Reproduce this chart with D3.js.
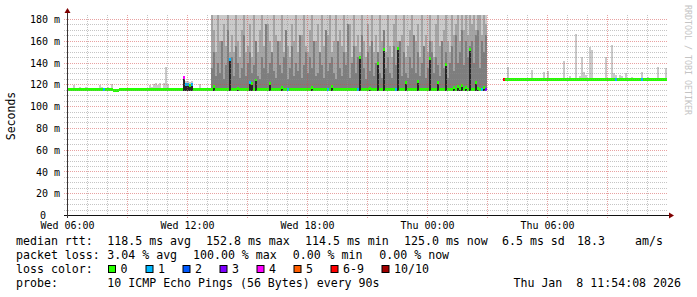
<!DOCTYPE html>
<html>
<head>
<meta charset="utf-8">
<script src="https://cdn.jsdelivr.net/npm/d3@7/dist/d3.min.js"></script>
<style>
html,body{margin:0;padding:0;background:#fff;}
svg{display:block;}
text{font-family:"DejaVu Sans Mono",monospace;}
</style>
</head>
<body>
<svg id="chart" width="697" height="297"></svg>
<script>
// ---------------- DATA ----------------
const startTime = "2026-01-07T06:00:00";
const endTime   = "2026-01-08T12:00:00";
const stepMinutes = 6;               // one bin = 6 minutes
const yTickValues = [0,20,40,60,80,100,120,140,160,180];
const yTickLabels = ["0","20 m","40 m","60 m","80 m","100 m","120 m","140 m","160 m","180 m"];
const xTickTimes  = ["2026-01-07T06:00:00","2026-01-07T12:00:00","2026-01-07T18:00:00","2026-01-08T00:00:00","2026-01-08T06:00:00"];
const xTickLabels = ["Wed 06:00","Wed 12:00","Wed 18:00","Thu 00:00","Thu 06:00"];

// median rtt (ms) per 6-minute bin
const medianMs = [
115,115,115,115,115,115,115,115,115,115,
115,115,115,115,115,115,115,115,115,115,
115,115,115,114,114,114,115,115,115,115,
115,115,115,115,115,115,115,115,115,115,
115,115,115,115,115,115,115,115,115,115,
115,115,115,115,115,115,115,115,126,120,
120,119,120,115,115,115,115,115,115,115,
115,115,115,118,115,115,115,115,115,115,
115,143,115,115,115,116,115,115,115,115,
115,122,121,115,124,115,115,115,115,115,
115,121,115,115,115,115,115,117,115,115,
115,115,115,115,115,115,115,115,115,115,
115,115,117,115,115,115,115,115,115,115,
115,115,118,115,115,115,115,115,115,115,
115,115,115,115,115,115,145,115,115,115,
115,116,115,115,115,139,115,115,152,115,
115,115,115,115,115,153,115,115,115,122,
115,115,115,115,115,123,115,115,115,115,
115,144,115,115,115,122,115,115,115,138,
115,115,115,117,115,118,116,119,115,117,
115,152,115,115,122,116,115,115,117,115,
null,null,null,null,null,null,null,null,124.5,124.5,
124.5,124.5,124.5,124.5,124.5,124.5,124.5,124.5,124.5,124.5,
124.5,124.5,124.5,124.5,124.5,124.5,124.5,124.5,124.5,124.5,
124.5,124.5,124.5,124.5,124.5,124.5,124.5,124.5,124.5,124.5,
124.5,124.5,124.5,124.5,124.5,124.5,124.5,124.5,124.5,124.5,
124.5,124.5,124.5,124.5,124.5,124.5,124.5,124.5,124.5,124.5,
124.5,124.5,124.5,124.5,124.5,124.5,124.5,124.5,124.5,124.5,
124.5,124.5,124.5,124.5,124.5,124.5,124.5,124.5,124.5,124.5,
124.5,124.5,124.5,124.5,124.5,124.5,124.5,124.5,124.5,124.5,
124.5
];

// lost pings out of 10 per bin
const lossCount = [
0,0,0,0,0,0,0,0,0,0,
0,0,0,0,0,0,0,0,1,0,
0,0,0,0,0,0,0,0,0,0,
0,0,0,0,0,0,0,0,0,0,
0,0,0,0,0,0,0,0,0,0,
0,0,0,0,0,0,0,0,4,1,
1,0,1,0,0,0,0,0,0,0,
0,0,0,0,0,0,0,0,0,0,
0,1,0,0,0,0,0,0,0,0,
0,1,0,0,0,0,0,0,0,0,
0,0,0,0,0,0,0,0,0,0,
1,0,0,0,0,0,0,0,0,0,
0,0,0,0,0,0,0,0,0,0,
1,0,0,0,0,0,0,0,0,0,
0,0,0,0,0,1,0,0,0,0,
0,0,0,0,0,0,0,0,0,0,
0,0,0,0,1,0,0,0,0,0,
0,0,0,0,0,0,0,0,0,0,
0,0,0,0,0,0,0,0,0,0,
0,0,0,0,0,0,0,0,0,0,
0,0,0,0,0,0,0,1,0,3,
null,null,null,null,null,null,null,null,7,0,
0,0,0,0,0,0,0,0,0,0,
0,0,0,0,0,0,0,0,0,0,
0,0,0,0,0,0,0,0,0,0,
0,0,0,0,0,0,0,0,0,0,
0,0,0,0,0,0,0,0,0,0,
0,0,0,0,1,0,0,0,0,0,
0,0,0,0,0,0,0,1,0,0,
0,0,0,0,0,0,0,0,0,0,
0
];

// fastest ping (ms) per bin: floor of the smoke
const minMs = [
114,114,114,114,114,114,114,114,114,114,114,114,114,114,114,114,114,114,114,114,114,114,114,114,114,114,114,114,114,114,
114,114,114,114,114,114,114,114,114,114,114,114,114,114,114,114,114,114,114,114,114,114,114,114,114,114,114,114,114,114,
114,114,114,114,114,114,114,114,114,114,114,114,114,114,114,114,114,114,114,114,114,114,114,114,114,114,114,114,114,114,
114,114,114,114,114,114,114,114,114,114,114,114,114,114,114,114,114,114,114,114,114,114,114,114,114,114,114,114,114,114,
114,114,114,114,114,114,114,114,114,114,114,114,114,114,114,114,114,114,114,114,114,114,114,114,114,114,114,114,114,114,
114,114,114,114,114,114,114,114,114,114,114,114,114,114,114,114,114,114,114,114,114,114,114,114,114,114,114,114,114,114,
114,114,114,114,114,114,114,114,114,114,114,114,114,114,114,114,114,114,114,114,114,114,114,114,114,114,114,114,114,114,
null,null,null,null,null,null,null,null,123.5,123.5,123.5,123.5,123.5,123.5,123.5,123.5,123.5,123.5,123.5,123.5,123.5,123.5,123.5,123.5,123.5,123.5,123.5,123.5,123.5,123.5,
123.5,123.5,123.5,123.5,123.5,123.5,123.5,123.5,123.5,123.5,123.5,123.5,123.5,123.5,123.5,123.5,123.5,123.5,123.5,123.5,123.5,123.5,123.5,123.5,123.5,123.5,123.5,123.5,123.5,123.5,
123.5,123.5,123.5,123.5,123.5,123.5,123.5,123.5,123.5,123.5,123.5,123.5,123.5,123.5,123.5,123.5,123.5,123.5,123.5,123.5,123.5,123.5,123.5,123.5,123.5,123.5,123.5,123.5,123.5,123.5,
123.5
];

// slowest ping (ms) per bin (lightest smoke); null = no smoke
const p10Ms = [
null,null,null,119,null,null,118,null,null,118,
null,null,null,null,null,null,119,118,null,null,
118,117,120,null,null,null,null,null,null,null,
null,null,null,null,117,null,null,null,null,null,
null,119,118,120,121,119,121,null,121,136,
120,null,null,null,null,null,null,null,127,123,
123,122,123,null,null,null,120,null,null,null,
null,null,200,200,200,200,200,200,200,200,
200,200,200,200,200,200,200,200,200,200,
200,200,200,200,200,200,200,200,200,200,
200,200,200,200,200,200,200,200,200,200,
200,200,200,200,200,200,200,200,200,200,
200,200,200,200,200,200,200,200,200,200,
200,200,200,200,200,200,200,200,200,200,
200,200,200,200,200,200,200,200,200,200,
200,200,200,200,200,200,200,200,200,200,
200,200,200,200,200,200,200,200,200,200,
200,200,200,200,200,200,200,200,200,200,
200,200,200,200,200,200,200,200,200,200,
200,200,200,200,200,200,200,200,200,200,
200,200,200,200,200,200,200,200,200,200,
null,null,null,null,null,null,null,null,null,null,
136,null,null,null,null,null,null,null,null,null,
null,null,133,null,null,null,null,null,131,null,
132,null,null,null,null,null,null,null,141.5,null,
null,127.5,null,null,166,null,127.5,145,131,129,
null,154.6,152,null,null,null,null,null,null,145,
null,null,156,130,129,null,129,128,null,130,
null,null,127,null,null,null,null,131,null,null,
127,null,null,null,null,136,null,null,null,135,
null
];

// dense-smoke period: 9th and 8th ranked pings (ms), starting at bin 72
const denseFirstBin = 72;
const p9Ms = [
184,170,150,184,160,145,175,155,184,150,
165,150,184,160,145,170,184,150,155,175,
145,184,160,150,170,184,155,145,175,160,
150,184,165,145,160,184,150,170,155,145,
175,160,184,150,145,165,184,155,150,170,
184,145,160,175,150,184,155,145,165,184,
150,160,184,145,170,155,184,150,160,175,
145,184,155,165,150,184,160,145,175,155,
184,150,165,145,184,160,170,150,184,155,
145,175,184,160,150,165,184,145,155,170,
184,150,160,175,145,184,155,165,150,184,
160,145,175,184,155,150,170,184,160,150,
184,165,175,184,160,184,170,184,165,184,
175,184,170,184,184,165,184,175
];
const p8Ms = [
135,150,128,140,130,160,125,138,170,132,
145,128,155,140,126,135,165,128,140,150,
130,138,160,128,125,145,135,175,130,140,
150,132,126,160,138,130,145,170,125,135,
155,128,140,132,165,126,138,150,130,145,
135,160,128,130,150,138,126,170,132,140,
145,130,125,160,135,128,150,138,175,126,
140,155,130,145,128,165,135,125,150,132,
160,128,140,150,130,126,170,135,145,130,
126,155,138,132,160,128,150,130,126,145,
135,165,130,150,128,140,155,126,135,160,
150,130,145,138,128,160,135,150,126,140,
155,132,165,140,150,170,138,160,145,155,
160,140,165,170,135,160,150,165
];

const lossLabels = ["0","1","2","3","4","5","6-9","10/10"];
const lossColors = ["#26ff00","#00b8ff","#0059ff","#7e00ff","#ff00ff","#ff5e00","#ff0000","#a10000"];
const smokeColors = ["#cacaca","#a4a4a4","#7e7e7e","#262626"];

const rttStats  = ["118.5 ms avg","152.8 ms max","114.5 ms min","125.0 ms now","6.5 ms sd","18.3","am/s"];
const lossStats = ["3.04 % avg","100.00 % max","0.00 % min","0.00 % now"];
const probeText = "10 ICMP Echo Pings (56 Bytes) every 90s";
const stampText = "Thu Jan  8 11:54:08 2026";

// ---------------- LAYOUT ----------------
const plot = {left:67, right:667, top:15, bottom:215};
const rttX  = [107.3,206,305,404,502,577,635];
const lossX = [107.3,193,292.7,379.3];
const boxX  = [108,145.5,182.5,219.5,256.5,293.5,330.5,381.5];
const legendBase = [245,259,273,287];

const parse = d3.timeParse("%Y-%m-%dT%H:%M:%S");
const t0 = parse(startTime), t1 = parse(endTime);
const x = d3.scaleTime().domain([t0,t1]).range([plot.left, plot.right]);
const y = d3.scaleLinear().domain([0,183.7]).range([plot.bottom, plot.top]);
const binTime = i => d3.timeMinute.offset(t0, i*stepMinutes);

const svg = d3.select("#chart");
svg.append("defs").append("clipPath").attr("id","pc")
  .append("rect").attr("x",plot.left).attr("y",plot.top)
  .attr("width",plot.right-plot.left).attr("height",plot.bottom-plot.top);

const g = svg.append("g").attr("clip-path","url(#pc)");

function layer(values, offset, color){
  const items = [];
  values.forEach((v,k)=>{
    const i = k+offset;
    if (v==null || minMs[i]==null) return;
    const hi = v, lo = minMs[i];
    if (hi<=lo) return;
    items.push({i,hi,lo});
  });
  g.append("g").selectAll("rect").data(items).join("rect")
    .attr("x",d=>x(binTime(d.i)))
    .attr("width",d=>x(binTime(d.i+1))-x(binTime(d.i)))
    .attr("y",d=>y(d.hi))
    .attr("height",d=>y(d.lo)-y(d.hi))
    .attr("fill",color).attr("shape-rendering","crispEdges");
}
layer(p10Ms,0,smokeColors[0]);
layer(p9Ms,denseFirstBin,smokeColors[1]);
layer(p8Ms,denseFirstBin,smokeColors[2]);
layer(medianMs,0,smokeColors[3]);

// median band coloured by loss
const bandHalf = 1.3;
const lossIdx = l => l<=5 ? l : (l<10 ? 6 : 7);
const med = medianMs.map((v,i)=>({i,v,l:lossCount[i]})).filter(d=>d.v!=null);
g.append("g").selectAll("rect").data(med).join("rect")
  .attr("x",d=>x(binTime(d.i)))
  .attr("width",d=>x(binTime(d.i+1))-x(binTime(d.i)))
  .attr("y",d=>y(d.v+bandHalf))
  .attr("height",d=>y(d.v-bandHalf)-y(d.v+bandHalf))
  .attr("fill",d=>lossColors[lossIdx(d.l)]).attr("shape-rendering","crispEdges");

// grid
const grid = svg.append("g").attr("shape-rendering","crispEdges");
const minorY = d3.range(0,183,5).filter(v=>v%20!==0);
grid.selectAll(".hmin").data(minorY).join("line")
  .attr("x1",plot.left-3).attr("x2",plot.right)
  .attr("y1",d=>Math.round(y(d))+0.5).attr("y2",d=>Math.round(y(d))+0.5)
  .attr("stroke","rgba(140,140,140,0.5)").attr("stroke-dasharray","1,1");
const hours = d3.timeHour.every(1).range(t0,t1);
grid.selectAll(".vmin").data(hours.filter(h=>h.getHours()%3!==0)).join("line")
  .attr("x1",d=>Math.round(x(d))+0.5).attr("x2",d=>Math.round(x(d))+0.5)
  .attr("y1",plot.top).attr("y2",plot.bottom+2)
  .attr("stroke","rgba(140,140,140,0.5)").attr("stroke-dasharray","1,1");
grid.selectAll(".hmaj").data(yTickValues).join("line")
  .attr("x1",plot.left-3).attr("x2",plot.right)
  .attr("y1",d=>Math.round(y(d))+0.5).attr("y2",d=>Math.round(y(d))+0.5)
  .attr("stroke","rgba(210,70,70,0.5)").attr("stroke-dasharray","1,1");
grid.selectAll(".vmaj").data(hours.filter(h=>h.getHours()%3===0)).join("line")
  .attr("x1",d=>Math.round(x(d))+0.5).attr("x2",d=>Math.round(x(d))+0.5)
  .attr("y1",plot.top).attr("y2",plot.bottom+3)
  .attr("stroke","rgba(210,70,70,0.5)").attr("stroke-dasharray","1,1");

// axes
const yAxis = d3.axisLeft(y).tickValues(yTickValues)
  .tickFormat((d,i)=>yTickLabels[i]).tickSize(0).tickPadding(7);
const ya = svg.append("g").attr("transform",`translate(${plot.left},0)`).call(yAxis);
ya.select(".domain").remove();
ya.selectAll("text").attr("font-family","DejaVu Sans Mono").attr("font-size",10)
  .attr("fill","#000").attr("dy","0.36em")
  .attr("dx",(d,i)=>yTickLabels[i].indexOf(" ")<0 ? -14 : 0);

const xAxis = d3.axisBottom(x).tickValues(xTickTimes.map(parse))
  .tickFormat((d,i)=>xTickLabels[i]).tickSize(0).tickPadding(7);
const xa = svg.append("g").attr("transform",`translate(0,${plot.bottom})`).call(xAxis);
xa.select(".domain").remove();
xa.selectAll("text").attr("font-family","DejaVu Sans Mono").attr("font-size",10).attr("fill","#000");

// axis lines & arrows
svg.append("line").attr("x1",plot.left-3).attr("x2",plot.right+3)
  .attr("y1",plot.bottom+0.5).attr("y2",plot.bottom+0.5).attr("stroke","#111").attr("shape-rendering","crispEdges");
svg.append("line").attr("x1",plot.left+0.5).attr("x2",plot.left+0.5)
  .attr("y1",plot.bottom+3).attr("y2",plot.top-3).attr("stroke","#3a3434").attr("shape-rendering","crispEdges");
const ax = plot.left+0.5, ay = plot.bottom+0.5;
svg.append("path").attr("d",`M${ax-3},${plot.top-2}L${ax+3},${plot.top-2}L${ax},${plot.top-7}Z`).attr("fill","#7f0000");
svg.append("path").attr("d",`M${plot.right+2},${ay-3}L${plot.right+2},${ay+3}L${plot.right+7},${ay}Z`).attr("fill","#7f0000");

// axis title
svg.append("text").attr("transform",`translate(15,${(plot.top+plot.bottom)/2+1}) rotate(-90)`)
  .attr("text-anchor","middle").attr("font-size",11.5).attr("fill","#000").text("Seconds");
svg.append("text").attr("transform","translate(685,5) rotate(90)")
  .attr("text-anchor","start").attr("font-size",8.3).attr("fill","#c4c4c4").text("RRDTOOL / TOBI OETIKER");

// legend
const fs = 11.6;
const leg = svg.append("g").attr("font-size",fs).attr("fill","#000");
leg.append("text").attr("x",16).attr("y",legendBase[0]).text("median rtt:");
rttStats.forEach((s,i)=>leg.append("text").attr("x",rttX[i]).attr("y",legendBase[0]).text(s));
leg.append("text").attr("x",16).attr("y",legendBase[1]).text("packet loss:");
lossStats.forEach((s,i)=>leg.append("text").attr("x",lossX[i]).attr("y",legendBase[1]).text(s));
leg.append("text").attr("x",16).attr("y",legendBase[2]).text("loss color:");
lossLabels.forEach((s,i)=>{
  leg.append("rect").attr("x",boxX[i]+0.5).attr("y",legendBase[2]-7.5).attr("width",7).attr("height",7)
    .attr("fill",lossColors[i]).attr("stroke","#000").attr("stroke-width",1);
  leg.append("text").attr("x",boxX[i]+12.5).attr("y",legendBase[2]).text(s);
});
leg.append("text").attr("x",16).attr("y",legendBase[3]).text("probe:");
leg.append("text").attr("x",107.3).attr("y",legendBase[3]).text(probeText);
leg.append("text").attr("x",681).attr("y",legendBase[3]).attr("text-anchor","end")
  .style("white-space","pre").text(stampText);
</script>
</body>
</html>
